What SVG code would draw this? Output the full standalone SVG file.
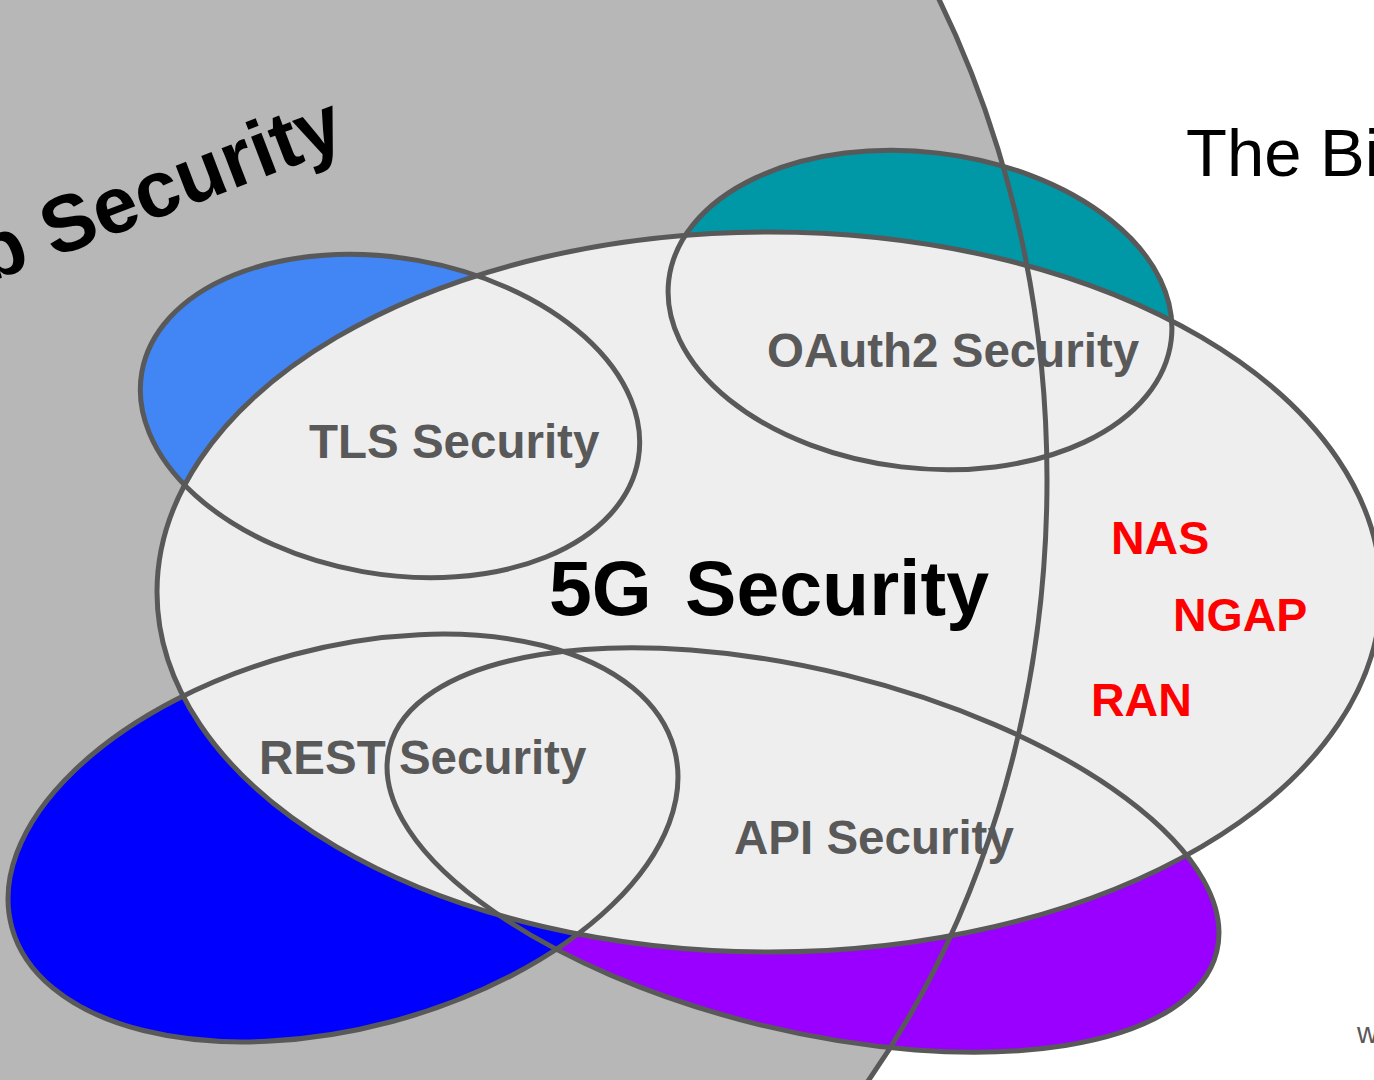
<svg xmlns="http://www.w3.org/2000/svg" width="1374" height="1080" viewBox="0 0 1374 1080">
  <style>
    .outline { fill: none; stroke: #595959; stroke-width: 5; }
    .label { font-family: "Liberation Sans", Arial, sans-serif; font-weight: bold; fill: #595959; font-size: 47.5px; }
    .proto { font-family: "Liberation Sans", Arial, sans-serif; font-weight: bold; fill: #ff0000; font-size: 46.5px; }
    .title { font-family: "Liberation Sans", Arial, sans-serif; font-weight: bold; fill: #000000; }
  </style>
  <defs>
    <ellipse id="shape-web" cx="347" cy="480" rx="700" ry="900"/>
    <ellipse id="shape-5g" cx="769" cy="592" rx="612" ry="360"/>
    <ellipse id="shape-tls" cx="0" cy="0" rx="252" ry="158" transform="translate(390 416) rotate(10)"/>
    <ellipse id="shape-oauth" cx="0" cy="0" rx="253" ry="158" transform="translate(920 310) rotate(6.8)"/>
    <ellipse id="shape-api" cx="0" cy="0" rx="426" ry="180" transform="translate(803 850) rotate(13.8)"/>
    <ellipse id="shape-rest" cx="0" cy="0" rx="343" ry="190" transform="translate(343 838) rotate(-15)"/>
  </defs>

  <rect width="1374" height="1080" fill="#ffffff"/>

  <!-- filled areas, bottom to top; the 5G area covers the inner parts of the small sets -->
  <g id="fills">
    <use href="#shape-web" fill="#b7b7b7"/>
    <use href="#shape-tls" fill="#4285f4"/>
    <use href="#shape-oauth" fill="#0097a7"/>
    <use href="#shape-api" fill="#9900ff"/>
    <use href="#shape-rest" fill="#0000ff"/>
    <use href="#shape-5g" fill="#eeeeee"/>
  </g>

  <g id="web-security">
    <use href="#shape-web" class="outline"/>
    <text class="title" font-size="80" transform="rotate(-21)" x="273" y="260" text-anchor="end">Web Security</text>
  </g>

  <g id="fiveg-security">
    <use href="#shape-5g" class="outline"/>
    <text class="title" font-size="77" x="549" y="615" word-spacing="12">5G Security</text>
    <text class="proto" x="1111" y="554">NAS</text>
    <text class="proto" x="1173" y="631">NGAP</text>
    <text class="proto" x="1091" y="716">RAN</text>
  </g>

  <g id="tls-security">
    <use href="#shape-tls" class="outline"/>
    <text class="label" x="309" y="458">TLS Security</text>
  </g>

  <g id="oauth2-security">
    <use href="#shape-oauth" class="outline"/>
    <text class="label" x="767" y="367">OAuth2 Security</text>
  </g>

  <g id="api-security">
    <use href="#shape-api" class="outline"/>
    <text class="label" x="734" y="854">API Security</text>
  </g>

  <g id="rest-security">
    <use href="#shape-rest" class="outline"/>
    <text class="label" x="259" y="774">REST Security</text>
  </g>

  <g id="connectors"/>

  <text x="1186" y="176" font-family="'Liberation Sans', Arial, sans-serif" font-size="67" fill="#000000">The Bi</text>
  <text x="1357" y="1043" font-family="'Liberation Sans', Arial, sans-serif" font-size="29" fill="#595959">w</text>
</svg>
